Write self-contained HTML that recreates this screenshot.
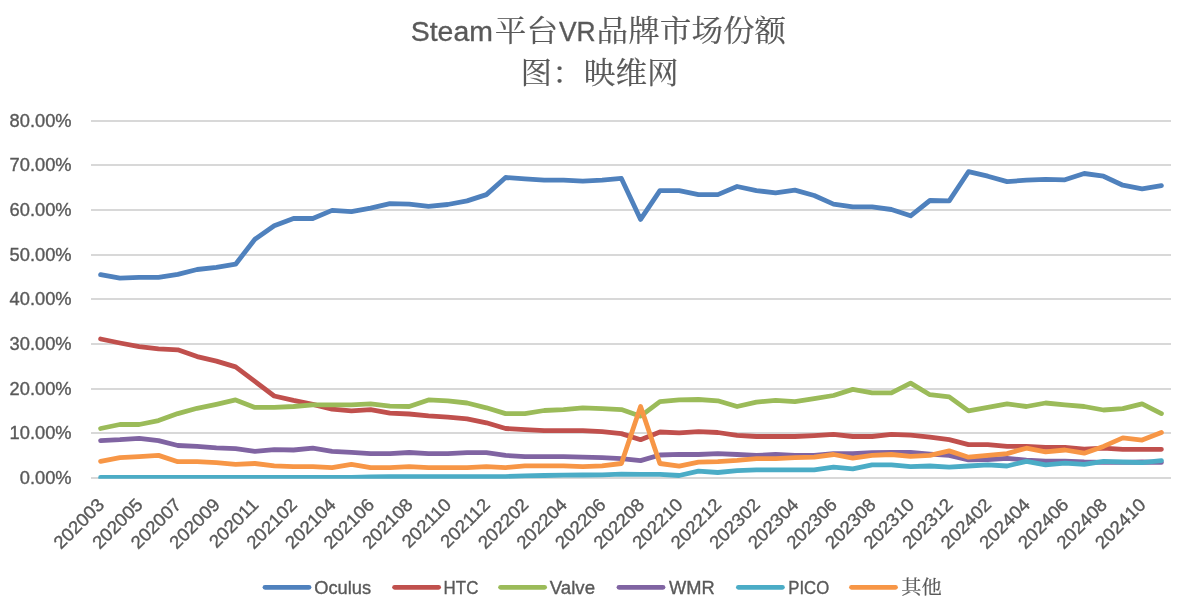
<!DOCTYPE html>
<html lang="zh-CN">
<head>
<meta charset="utf-8">
<title>Steam平台VR品牌市场份额</title>
<style>
html,body{margin:0;padding:0;background:#fff;}
body{width:1187px;height:608px;overflow:hidden;}
svg{display:block;}
text{fill:#595959;}
.lat{font-family:"Liberation Sans",sans-serif;stroke:#595959;stroke-width:0.35px;}
.cjk{font-family:"Liberation Sans","Noto Serif CJK SC","Noto Sans CJK SC",serif;font-weight:400;stroke:#595959;stroke-width:0.2px;}
.grid line{stroke:#D8D8D8;stroke-width:2;}
.ser polyline{fill:none;stroke-width:4.8;stroke-linecap:round;stroke-linejoin:round;}
.leg line{stroke-width:4.8;stroke-linecap:round;}
</style>
</head>
<body>
<svg width="1187" height="608" viewBox="0 0 1187 608">
<rect x="0" y="0" width="1187" height="608" fill="#ffffff"/>
<text class="lat" font-size="28.4" text-anchor="start" transform="translate(410.8,40.7) scale(1,1)">Steam</text>
<text class="cjk" font-size="31.6" text-anchor="start" transform="translate(494.8,41.0) scale(1,0.95)">平台</text>
<text class="lat" font-size="28.4" text-anchor="start" transform="translate(558.9,40.7) scale(0.93,1)">VR</text>
<text class="cjk" font-size="31.6" text-anchor="start" transform="translate(596.6,41.0) scale(1,0.95)">品牌市场份额</text>
<text class="cjk" font-size="31.6" text-anchor="start" transform="translate(520.6,82.7) scale(1,0.95)">图：映维网</text>
<g class="grid">
<line x1="91.0" y1="478.00" x2="1171.0" y2="478.00"/>
<line x1="91.0" y1="433.00" x2="1171.0" y2="433.00"/>
<line x1="91.0" y1="389.00" x2="1171.0" y2="389.00"/>
<line x1="91.0" y1="344.00" x2="1171.0" y2="344.00"/>
<line x1="91.0" y1="299.00" x2="1171.0" y2="299.00"/>
<line x1="91.0" y1="255.00" x2="1171.0" y2="255.00"/>
<line x1="91.0" y1="210.00" x2="1171.0" y2="210.00"/>
<line x1="91.0" y1="165.00" x2="1171.0" y2="165.00"/>
<line x1="91.0" y1="121.00" x2="1171.0" y2="121.00"/>
</g>
<g class="lat" font-size="18.3" text-anchor="end">
<text x="71.6" y="484.40">0.00%</text>
<text x="71.6" y="439.40">10.00%</text>
<text x="71.6" y="395.40">20.00%</text>
<text x="71.6" y="350.40">30.00%</text>
<text x="71.6" y="305.40">40.00%</text>
<text x="71.6" y="261.40">50.00%</text>
<text x="71.6" y="216.40">60.00%</text>
<text x="71.6" y="171.40">70.00%</text>
<text x="71.6" y="127.40">80.00%</text>
</g>
<g class="lat" font-size="18.2" text-anchor="end">
<text transform="translate(105.34,505.80) rotate(-45) scale(1.03,1)">202003</text>
<text transform="translate(143.91,505.80) rotate(-45) scale(1.03,1)">202005</text>
<text transform="translate(182.49,505.80) rotate(-45) scale(1.03,1)">202007</text>
<text transform="translate(221.06,505.80) rotate(-45) scale(1.03,1)">202009</text>
<text transform="translate(259.63,505.80) rotate(-45) scale(1.03,1)">202011</text>
<text transform="translate(298.20,505.80) rotate(-45) scale(1.03,1)">202102</text>
<text transform="translate(336.77,505.80) rotate(-45) scale(1.03,1)">202104</text>
<text transform="translate(375.34,505.80) rotate(-45) scale(1.03,1)">202106</text>
<text transform="translate(413.91,505.80) rotate(-45) scale(1.03,1)">202108</text>
<text transform="translate(452.49,505.80) rotate(-45) scale(1.03,1)">202110</text>
<text transform="translate(491.06,505.80) rotate(-45) scale(1.03,1)">202112</text>
<text transform="translate(529.63,505.80) rotate(-45) scale(1.03,1)">202202</text>
<text transform="translate(568.20,505.80) rotate(-45) scale(1.03,1)">202204</text>
<text transform="translate(606.77,505.80) rotate(-45) scale(1.03,1)">202206</text>
<text transform="translate(645.34,505.80) rotate(-45) scale(1.03,1)">202208</text>
<text transform="translate(683.91,505.80) rotate(-45) scale(1.03,1)">202210</text>
<text transform="translate(722.49,505.80) rotate(-45) scale(1.03,1)">202212</text>
<text transform="translate(761.06,505.80) rotate(-45) scale(1.03,1)">202302</text>
<text transform="translate(799.63,505.80) rotate(-45) scale(1.03,1)">202304</text>
<text transform="translate(838.20,505.80) rotate(-45) scale(1.03,1)">202306</text>
<text transform="translate(876.77,505.80) rotate(-45) scale(1.03,1)">202308</text>
<text transform="translate(915.34,505.80) rotate(-45) scale(1.03,1)">202310</text>
<text transform="translate(953.91,505.80) rotate(-45) scale(1.03,1)">202312</text>
<text transform="translate(992.49,505.80) rotate(-45) scale(1.03,1)">202402</text>
<text transform="translate(1031.06,505.80) rotate(-45) scale(1.03,1)">202404</text>
<text transform="translate(1069.63,505.80) rotate(-45) scale(1.03,1)">202406</text>
<text transform="translate(1108.20,505.80) rotate(-45) scale(1.03,1)">202408</text>
<text transform="translate(1146.77,505.80) rotate(-45) scale(1.03,1)">202410</text>
</g>
<clipPath id="plot"><rect x="91.0" y="0" width="1080.0" height="478.80"/></clipPath>
<g class="ser" clip-path="url(#plot)">
<polyline stroke="#4F81BD" points="100.6,274.7 119.9,278.2 139.2,277.4 158.5,277.4 177.8,274.3 197.1,269.5 216.4,267.3 235.6,264.2 254.9,239.2 274.2,225.7 293.5,218.5 312.8,218.5 332.1,210.4 351.4,211.7 370.6,208.1 389.9,203.6 409.2,204.1 428.5,206.3 447.8,204.5 467.1,200.9 486.4,194.6 505.6,177.5 524.9,178.9 544.2,180.2 563.5,180.2 582.8,181.1 602.1,180.2 621.4,178.4 640.6,219.4 659.9,190.6 679.2,190.6 698.5,194.6 717.8,194.6 737.1,186.5 756.4,190.6 775.6,192.8 794.9,190.1 814.2,195.5 833.5,204.1 852.8,206.8 872.1,206.8 891.4,209.5 910.6,215.8 929.9,200.5 949.2,200.9 968.5,171.7 987.8,176.2 1007.1,181.6 1026.4,180.2 1045.6,179.3 1064.9,179.8 1084.2,173.5 1103.5,176.2 1122.8,185.2 1142.1,188.8 1161.4,185.6"/>
<polyline stroke="#C0504D" points="100.6,339.0 119.9,343.0 139.2,346.6 158.5,348.9 177.8,349.8 197.1,356.6 216.4,361.1 235.6,366.9 254.9,381.3 274.2,396.0 293.5,400.4 312.8,404.3 332.1,409.2 351.4,410.9 370.6,409.6 389.9,413.1 409.2,414.0 428.5,415.8 447.8,417.1 467.1,418.8 486.4,422.8 505.6,428.5 524.9,429.6 544.2,430.7 563.5,430.7 582.8,430.7 602.1,431.6 621.4,433.6 640.6,439.7 659.9,432.0 679.2,432.9 698.5,431.6 717.8,432.5 737.1,435.4 756.4,436.5 775.6,436.5 794.9,436.5 814.2,435.6 833.5,434.3 852.8,436.5 872.1,436.5 891.4,434.3 910.6,435.2 929.9,437.2 949.2,439.7 968.5,444.6 987.8,444.6 1007.1,446.4 1026.4,446.4 1045.6,447.3 1064.9,447.3 1084.2,449.1 1103.5,448.2 1122.8,449.3 1142.1,449.3 1161.4,449.3"/>
<polyline stroke="#9BBB59" points="100.6,428.5 119.9,424.5 139.2,424.5 158.5,420.6 177.8,413.6 197.1,408.3 216.4,404.3 235.6,399.9 254.9,407.4 274.2,407.4 293.5,406.5 312.8,404.8 332.1,404.8 351.4,404.8 370.6,403.9 389.9,406.1 409.2,406.5 428.5,399.9 447.8,400.8 467.1,403.0 486.4,407.8 505.6,413.6 524.9,413.6 544.2,410.5 563.5,409.6 582.8,407.8 602.1,408.7 621.4,409.6 640.6,416.2 659.9,401.7 679.2,399.9 698.5,399.5 717.8,400.8 737.1,406.5 756.4,402.1 775.6,400.4 794.9,401.7 814.2,398.6 833.5,395.5 852.8,389.4 872.1,392.9 891.4,392.9 910.6,383.1 929.9,394.7 949.2,396.9 968.5,410.9 987.8,407.4 1007.1,403.9 1026.4,406.5 1045.6,403.0 1064.9,404.8 1084.2,406.5 1103.5,410.0 1122.8,408.7 1142.1,403.9 1161.4,413.6"/>
<polyline stroke="#8064A2" points="100.6,440.6 119.9,439.7 139.2,438.3 158.5,440.6 177.8,445.5 197.1,446.4 216.4,447.8 235.6,448.7 254.9,451.4 274.2,449.6 293.5,450.0 312.8,448.2 332.1,451.4 351.4,452.3 370.6,453.6 389.9,453.6 409.2,452.5 428.5,453.6 447.8,453.6 467.1,452.7 486.4,452.7 505.6,455.4 524.9,456.6 544.2,456.6 563.5,456.6 582.8,457.2 602.1,457.7 621.4,458.6 640.6,460.6 659.9,455.0 679.2,454.3 698.5,454.5 717.8,453.6 737.1,454.5 756.4,455.4 775.6,454.5 794.9,455.4 814.2,455.4 833.5,453.6 852.8,453.6 872.1,452.7 891.4,452.5 910.6,452.5 929.9,454.1 949.2,455.4 968.5,459.9 987.8,459.5 1007.1,458.4 1026.4,460.2 1045.6,461.1 1064.9,461.1 1084.2,462.0 1103.5,462.4 1122.8,462.4 1142.1,462.0 1161.4,462.4"/>
<polyline stroke="#4BACC6" points="100.6,477.5 119.9,477.5 139.2,477.5 158.5,477.5 177.8,477.5 197.1,477.5 216.4,477.5 235.6,477.5 254.9,477.5 274.2,477.5 293.5,477.5 312.8,477.5 332.1,477.5 351.4,477.3 370.6,476.8 389.9,476.6 409.2,476.6 428.5,476.6 447.8,476.6 467.1,476.6 486.4,476.6 505.6,476.6 524.9,475.9 544.2,475.5 563.5,475.2 582.8,475.0 602.1,474.8 621.4,474.1 640.6,474.3 659.9,474.3 679.2,475.5 698.5,471.2 717.8,472.5 737.1,470.7 756.4,469.8 775.6,469.8 794.9,469.8 814.2,469.8 833.5,467.1 852.8,468.9 872.1,464.9 891.4,464.9 910.6,466.7 929.9,466.0 949.2,467.1 968.5,466.0 987.8,464.9 1007.1,466.0 1026.4,461.3 1045.6,464.9 1064.9,463.1 1084.2,464.4 1103.5,461.3 1122.8,462.0 1142.1,462.6 1161.4,460.6"/>
<polyline stroke="#F79646" points="100.6,461.3 119.9,457.7 139.2,456.6 158.5,455.4 177.8,461.7 197.1,461.7 216.4,462.6 235.6,464.4 254.9,463.5 274.2,465.8 293.5,466.7 312.8,466.7 332.1,467.6 351.4,464.4 370.6,467.6 389.9,467.6 409.2,466.7 428.5,467.6 447.8,467.6 467.1,467.6 486.4,466.7 505.6,467.6 524.9,465.8 544.2,465.8 563.5,465.8 582.8,466.7 602.1,465.8 621.4,463.5 640.6,406.5 659.9,463.5 679.2,466.2 698.5,462.2 717.8,461.7 737.1,460.4 756.4,458.6 775.6,458.6 794.9,457.7 814.2,457.2 833.5,454.5 852.8,458.1 872.1,455.4 891.4,454.5 910.6,456.3 929.9,455.4 949.2,450.9 968.5,457.2 987.8,455.4 1007.1,453.6 1026.4,448.2 1045.6,451.8 1064.9,450.0 1084.2,453.2 1103.5,446.4 1122.8,437.9 1142.1,440.1 1161.4,432.5"/>
</g>
<g class="leg">
<line x1="265.0" y1="587.3" x2="309.0" y2="587.3" stroke="#4F81BD"/>
<text class="lat" font-size="18.3" text-anchor="start" transform="translate(314.2,593.6999999999999) scale(1.0,1)">Oculus</text>
<line x1="394.6" y1="587.3" x2="438.6" y2="587.3" stroke="#C0504D"/>
<text class="lat" font-size="18.3" text-anchor="start" transform="translate(443.6,593.6999999999999) scale(0.925,1)">HTC</text>
<line x1="500.6" y1="587.3" x2="544.6" y2="587.3" stroke="#9BBB59"/>
<text class="lat" font-size="18.3" text-anchor="start" transform="translate(549.8,593.6999999999999) scale(1.02,1)">Valve</text>
<line x1="619.0" y1="587.3" x2="663.0" y2="587.3" stroke="#8064A2"/>
<text class="lat" font-size="18.3" text-anchor="start" transform="translate(669.0,593.6999999999999) scale(1.0,1)">WMR</text>
<line x1="738.4" y1="587.3" x2="782.4" y2="587.3" stroke="#4BACC6"/>
<text class="lat" font-size="18.3" text-anchor="start" transform="translate(788.3,593.6999999999999) scale(0.915,1)">PICO</text>
<line x1="851.5" y1="587.3" x2="895.5" y2="587.3" stroke="#F79646"/>
<text class="cjk" font-size="20.2" text-anchor="start" transform="translate(901.3,593.8) scale(1.0,0.96)">其他</text>
</g>
</svg>
</body>
</html>
